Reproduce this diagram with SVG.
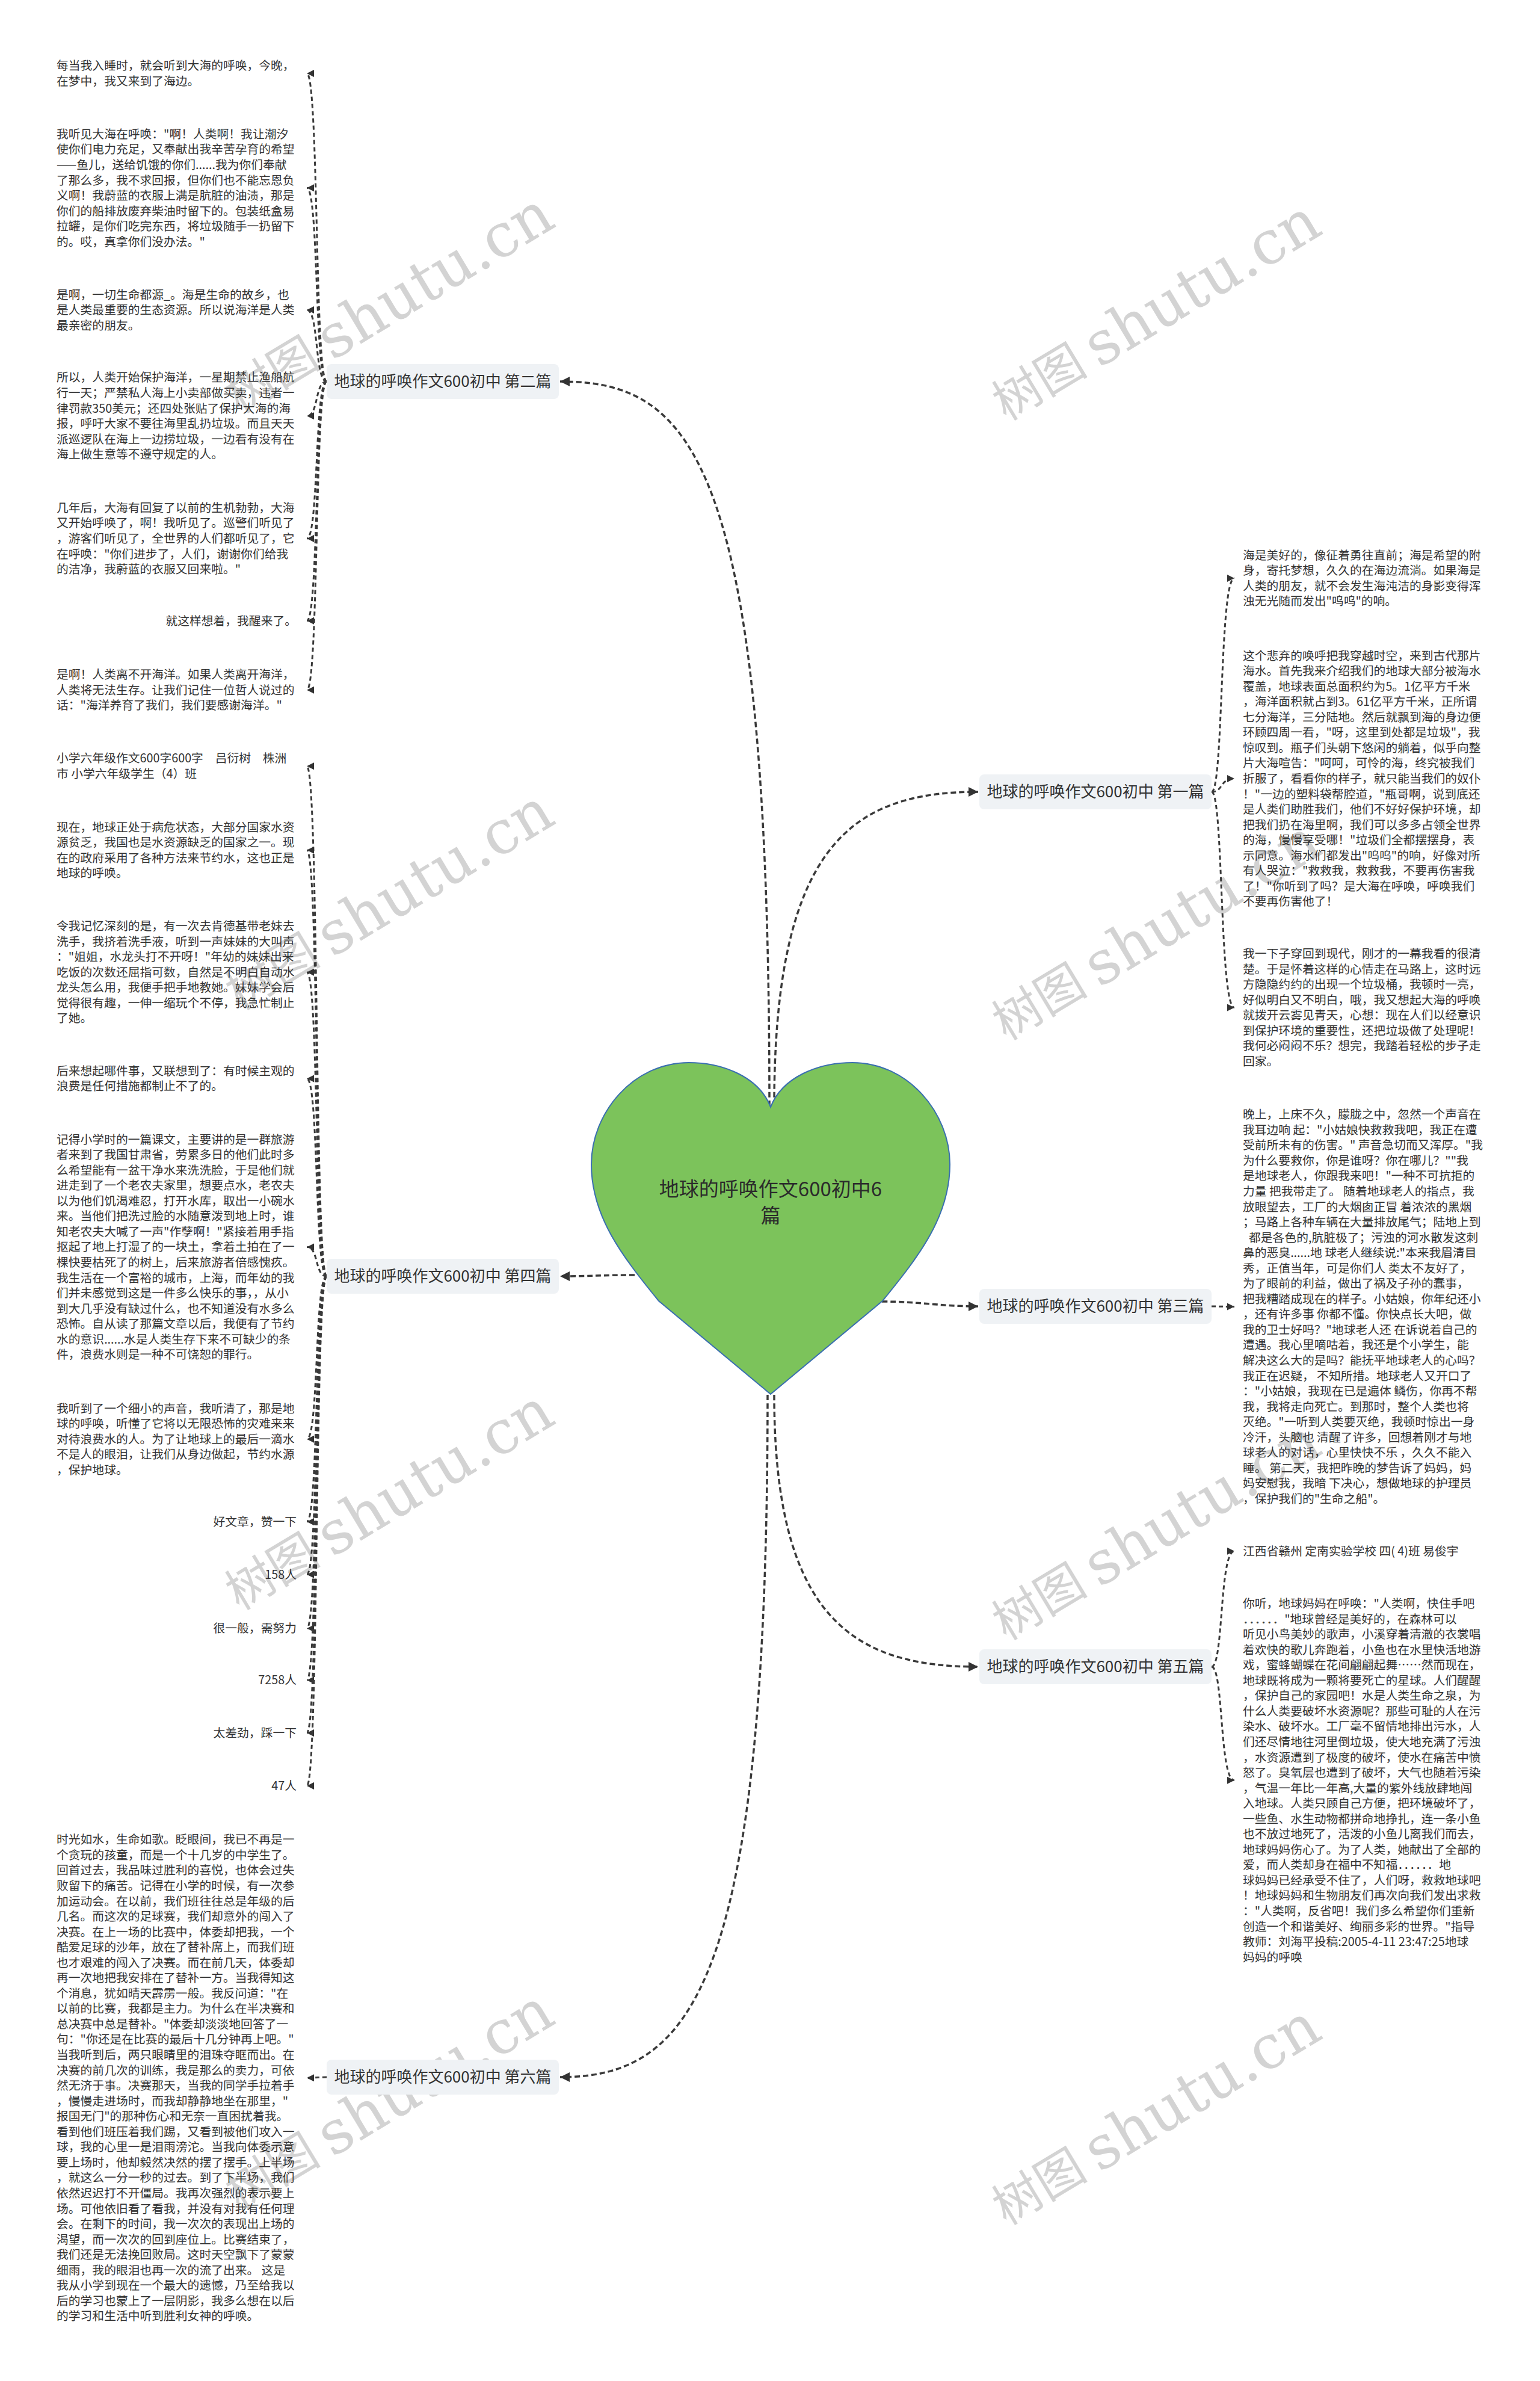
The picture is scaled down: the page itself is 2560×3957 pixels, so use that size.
<svg xmlns="http://www.w3.org/2000/svg" width="2560" height="3957" viewBox="0 0 2560 3957">
<defs>
<style>
.t{font-family:"Noto Sans CJK SC","Noto Sans",sans-serif;font-size:19.8px;fill:#333}
.b{font-family:"Noto Sans CJK SC","Noto Sans",sans-serif;font-size:26px;fill:#333}
.box{fill:#eff2f5}
.c{stroke:#3a3a3a;stroke-width:3;stroke-dasharray:7 5;fill:none;marker-end:url(#a)}
.m{stroke:#3a3a3a;stroke-width:3.5;stroke-dasharray:9 5;fill:none;marker-end:url(#A)}
.w{font-family:"DejaVu Serif","Noto Sans CJK SC",serif;fill:#d3d3d3}
</style>
<marker id="a" viewBox="0 0 10 10" refX="10" refY="5" markerWidth="12" markerHeight="12" markerUnits="userSpaceOnUse" orient="auto"><path d="M0,0 L10,5 L0,10 z" fill="#333"/></marker>
<marker id="A" viewBox="0 0 10 10" refX="10" refY="5" markerWidth="16" markerHeight="16" markerUnits="userSpaceOnUse" orient="auto"><path d="M0,0 L10,5 L0,10 z" fill="#333"/></marker>
</defs>
<rect width="2560" height="3957" fill="#fff"/>
<g id="watermarks">
<text class="w" transform="translate(650,511) rotate(-31)" text-anchor="middle" dominant-baseline="middle"><tspan font-size="80" font-family="Noto Sans CJK SC">树图 </tspan><tspan font-size="100">shutu.cn</tspan></text>
<text class="w" transform="translate(1925,523) rotate(-31)" text-anchor="middle" dominant-baseline="middle"><tspan font-size="80" font-family="Noto Sans CJK SC">树图 </tspan><tspan font-size="100">shutu.cn</tspan></text>
<text class="w" transform="translate(650,1503) rotate(-31)" text-anchor="middle" dominant-baseline="middle"><tspan font-size="80" font-family="Noto Sans CJK SC">树图 </tspan><tspan font-size="100">shutu.cn</tspan></text>
<text class="w" transform="translate(1925,1553) rotate(-31)" text-anchor="middle" dominant-baseline="middle"><tspan font-size="80" font-family="Noto Sans CJK SC">树图 </tspan><tspan font-size="100">shutu.cn</tspan></text>
<text class="w" transform="translate(650,2500) rotate(-31)" text-anchor="middle" dominant-baseline="middle"><tspan font-size="80" font-family="Noto Sans CJK SC">树图 </tspan><tspan font-size="100">shutu.cn</tspan></text>
<text class="w" transform="translate(1925,2550) rotate(-31)" text-anchor="middle" dominant-baseline="middle"><tspan font-size="80" font-family="Noto Sans CJK SC">树图 </tspan><tspan font-size="100">shutu.cn</tspan></text>
<text class="w" transform="translate(650,3497) rotate(-31)" text-anchor="middle" dominant-baseline="middle"><tspan font-size="80" font-family="Noto Sans CJK SC">树图 </tspan><tspan font-size="100">shutu.cn</tspan></text>
<text class="w" transform="translate(1925,3522) rotate(-31)" text-anchor="middle" dominant-baseline="middle"><tspan font-size="80" font-family="Noto Sans CJK SC">树图 </tspan><tspan font-size="100">shutu.cn</tspan></text>
</g>
<g id="connectors">
<path class="m" d="M1279 1838 C1279 760 1150 634 931 634"/>
<path class="m" d="M1287 1838 C1287 1400 1420 1316 1626 1316"/>
<path class="m" d="M1055 2119 C1000 2119 980 2121 931 2121"/>
<path class="m" d="M1466 2163 C1530 2163 1560 2171 1626 2171"/>
<path class="m" d="M1287 2318 C1287 2690 1420 2770 1626 2770"/>
<path class="m" d="M1276 2318 C1276 3300 1150 3452 931 3452"/>
<path class="c" d="M543 634 C523 634 530 122 510 122"/>
<path class="c" d="M543 634 C523 634 530 312.3 510 312.3"/>
<path class="c" d="M543 634 C523 634 530 515 510 515"/>
<path class="c" d="M543 634 C523 634 530 691.3 510 691.3"/>
<path class="c" d="M543 634 C523 634 530 895 510 895"/>
<path class="c" d="M543 634 C523 634 530 1031.7 510 1031.7"/>
<path class="c" d="M543 634 C523 634 530 1146.7 510 1146.7"/>
<path class="c" d="M543 2121 C523 2121 530 1273.2 510 1273.2"/>
<path class="c" d="M543 2121 C523 2121 530 1412.8 510 1412.8"/>
<path class="c" d="M543 2121 C523 2121 530 1615.7 510 1615.7"/>
<path class="c" d="M543 2121 C523 2121 530 1792.5 510 1792.5"/>
<path class="c" d="M543 2121 C523 2121 530 2072.4 510 2072.4"/>
<path class="c" d="M543 2121 C523 2121 530 2391.7 510 2391.7"/>
<path class="c" d="M543 2121 C523 2121 530 2528.9 510 2528.9"/>
<path class="c" d="M543 2121 C523 2121 530 2616.7 510 2616.7"/>
<path class="c" d="M543 2121 C523 2121 530 2706.2 510 2706.2"/>
<path class="c" d="M543 2121 C523 2121 530 2792.3 510 2792.3"/>
<path class="c" d="M543 2121 C523 2121 530 2880.1 510 2880.1"/>
<path class="c" d="M543 2121 C523 2121 530 2967.9 510 2967.9"/>
<path class="c" d="M543 3452 C530 3452 525 3453.3 510 3453.3"/>
<path class="c" d="M2014 1316 C2034 1316 2027 961 2052 961"/>
<path class="c" d="M2014 1316 C2034 1316 2027 1294 2052 1294"/>
<path class="c" d="M2014 1316 C2034 1316 2027 1674.5 2052 1674.5"/>
<path class="c" d="M2014 2171 C2030 2171 2035 2171.6 2052 2171.6"/>
<path class="c" d="M2014 2770 C2034 2770 2027 2577.8 2052 2577.8"/>
<path class="c" d="M2014 2770 C2034 2770 2027 2958.8 2052 2958.8"/>
</g>
<g id="root">
<path d="M1281 1840 C1300 1790 1360 1766 1417 1766 C1510 1766 1579 1850 1579 1935 C1579 2020 1530 2085 1467 2162 L1281 2317 L1095 2162 C1032 2085 983 2020 983 1935 C983 1850 1052 1766 1145 1766 C1202 1766 1262 1790 1281 1840 Z" fill="#7cc35b" stroke="#3a6fb0" stroke-width="2"/>
<text font-family="Noto Sans CJK SC,sans-serif" font-size="33" fill="#2b2b2b" text-anchor="middle"><tspan x="1281" y="1988">地球的呼唤作文600初中6</tspan><tspan x="1281" y="2032">篇</tspan></text>
</g>
<g id="b2"><rect class="box" x="543" y="605" width="386" height="58" rx="8"/><text class="b" x="736" y="643" text-anchor="middle">地球的呼唤作文600初中 第二篇</text></g>
<g id="b4"><rect class="box" x="543" y="2092" width="386" height="58" rx="8"/><text class="b" x="736" y="2130" text-anchor="middle">地球的呼唤作文600初中 第四篇</text></g>
<g id="b6"><rect class="box" x="543" y="3423" width="386" height="58" rx="8"/><text class="b" x="736" y="3461" text-anchor="middle">地球的呼唤作文600初中 第六篇</text></g>
<g id="b1"><rect class="box" x="1628" y="1287" width="386" height="58" rx="8"/><text class="b" x="1821" y="1325" text-anchor="middle">地球的呼唤作文600初中 第一篇</text></g>
<g id="b3"><rect class="box" x="1628" y="2142" width="386" height="58" rx="8"/><text class="b" x="1821" y="2180" text-anchor="middle">地球的呼唤作文600初中 第三篇</text></g>
<g id="b5"><rect class="box" x="1628" y="2741" width="386" height="58" rx="8"/><text class="b" x="1821" y="2779" text-anchor="middle">地球的呼唤作文600初中 第五篇</text></g>
<g id="leaves-2">
<text class="t" x="94" y="116.2"><tspan x="94">每当我入睡时，就会听到大海的呼唤，今晚，</tspan><tspan x="94" dy="25.55">在梦中，我又来到了海边。</tspan></text>
<text class="t" x="94" y="229.9"><tspan x="94">我听见大海在呼唤："啊！人类啊！我让潮汐</tspan><tspan x="94" dy="25.55">使你们电力充足，又奉献出我辛苦孕育的希望</tspan><tspan x="94" dy="25.55">——鱼儿，送给饥饿的你们......我为你们奉献</tspan><tspan x="94" dy="25.55">了那么多，我不求回报，但你们也不能忘恩负</tspan><tspan x="94" dy="25.55">义啊！我蔚蓝的衣服上满是肮脏的油渍，那是</tspan><tspan x="94" dy="25.55">你们的船排放废弃柴油时留下的。包装纸盒易</tspan><tspan x="94" dy="25.55">拉罐，是你们吃完东西，将垃圾随手一扔留下</tspan><tspan x="94" dy="25.55">的。哎，真拿你们没办法。"</tspan></text>
<text class="t" x="94" y="496.5"><tspan x="94">是啊，一切生命都源_。海是生命的故乡，也</tspan><tspan x="94" dy="25.55">是人类最重要的生态资源。所以说海洋是人类</tspan><tspan x="94" dy="25.55">最亲密的朋友。</tspan></text>
<text class="t" x="94" y="634.4"><tspan x="94">所以，人类开始保护海洋，一星期禁止渔船航</tspan><tspan x="94" dy="25.55">行一天；严禁私人海上小卖部做买卖，违者一</tspan><tspan x="94" dy="25.55">律罚款350美元；还四处张贴了保护大海的海</tspan><tspan x="94" dy="25.55">报，呼吁大家不要往海里乱扔垃圾。而且天天</tspan><tspan x="94" dy="25.55">派巡逻队在海上一边捞垃圾，一边看有没有在</tspan><tspan x="94" dy="25.55">海上做生意等不遵守规定的人。</tspan></text>
<text class="t" x="94" y="850.9"><tspan x="94">几年后，大海有回复了以前的生机勃勃，大海</tspan><tspan x="94" dy="25.55">又开始呼唤了，啊！我听见了。巡警们听见了</tspan><tspan x="94" dy="25.55">，游客们听见了，全世界的人们都听见了，它</tspan><tspan x="94" dy="25.55">在呼唤："你们进步了，人们，谢谢你们给我</tspan><tspan x="94" dy="25.55">的洁净，我蔚蓝的衣服又回来啦。"</tspan></text>
<text class="t" x="493" y="1038.7" text-anchor="end">就这样想着，我醒来了。</text>
<text class="t" x="94" y="1128.2"><tspan x="94">是啊！人类离不开海洋。如果人类离开海洋，</tspan><tspan x="94" dy="25.55">人类将无法生存。让我们记住一位哲人说过的</tspan><tspan x="94" dy="25.55">话："海洋养育了我们，我们要感谢海洋。"</tspan></text>
</g>
<g id="leaves-4">
<text class="t" x="94" y="1267.4"><tspan x="94">小学六年级作文600字600字　吕衍树　株洲</tspan><tspan x="94" dy="25.55">市 小学六年级学生（4）班</tspan></text>
<text class="t" x="94" y="1381.5"><tspan x="94">现在，地球正处于病危状态，大部分国家水资</tspan><tspan x="94" dy="25.55">源贫乏，我国也是水资源缺乏的国家之一。现</tspan><tspan x="94" dy="25.55">在的政府采用了各种方法来节约水，这也正是</tspan><tspan x="94" dy="25.55">地球的呼唤。</tspan></text>
<text class="t" x="94" y="1546.1"><tspan x="94">令我记忆深刻的是，有一次去肯德基带老妹去</tspan><tspan x="94" dy="25.55">洗手，我挤着洗手液，听到一声妹妹的大叫声</tspan><tspan x="94" dy="25.55">："姐姐，水龙头打不开呀！"年幼的妹妹出来</tspan><tspan x="94" dy="25.55">吃饭的次数还屈指可数，自然是不明白自动水</tspan><tspan x="94" dy="25.55">龙头怎么用，我便手把手地教她。妹妹学会后</tspan><tspan x="94" dy="25.55">觉得很有趣，一伸一缩玩个不停，我急忙制止</tspan><tspan x="94" dy="25.55">了她。</tspan></text>
<text class="t" x="94" y="1786.7"><tspan x="94">后来想起哪件事，又联想到了：有时候主观的</tspan><tspan x="94" dy="25.55">浪费是任何措施都制止不了的。</tspan></text>
<text class="t" x="94" y="1900.6"><tspan x="94">记得小学时的一篇课文，主要讲的是一群旅游</tspan><tspan x="94" dy="25.55">者来到了我国甘肃省，劳累多日的他们此时多</tspan><tspan x="94" dy="25.55">么希望能有一盆干净水来洗洗脸，于是他们就</tspan><tspan x="94" dy="25.55">进走到了一个老农夫家里，想要点水，老农夫</tspan><tspan x="94" dy="25.55">以为他们饥渴难忍，打开水库，取出一小碗水</tspan><tspan x="94" dy="25.55">来。当他们把洗过脸的水随意泼到地上时，谁</tspan><tspan x="94" dy="25.55">知老农夫大喊了一声"作孽啊！"紧接着用手指</tspan><tspan x="94" dy="25.55">抠起了地上打湿了的一块土，拿着土拍在了一</tspan><tspan x="94" dy="25.55">棵快要枯死了的树上，后来旅游者倍感愧疚。</tspan><tspan x="94" dy="25.55">我生活在一个富裕的城市，上海，而年幼的我</tspan><tspan x="94" dy="25.55">们并未感觉到这是一件多么快乐的事，，从小</tspan><tspan x="94" dy="25.55">到大几乎没有缺过什么，也不知道没有水多么</tspan><tspan x="94" dy="25.55">恐怖。自从读了那篇文章以后，我便有了节约</tspan><tspan x="94" dy="25.55">水的意识......水是人类生存下来不可缺少的条</tspan><tspan x="94" dy="25.55">件，浪费水则是一种不可饶恕的罪行。</tspan></text>
<text class="t" x="94" y="2347.6"><tspan x="94">我听到了一个细小的声音，我听清了，那是地</tspan><tspan x="94" dy="25.55">球的呼唤，听懂了它将以无限恐怖的灾难来来</tspan><tspan x="94" dy="25.55">对待浪费水的人。为了让地球上的最后一滴水</tspan><tspan x="94" dy="25.55">不是人的眼泪，让我们从身边做起，节约水源</tspan><tspan x="94" dy="25.55">，保护地球。</tspan></text>
<text class="t" x="493" y="2535.9" text-anchor="end">好文章，赞一下</text>
<text class="t" x="493" y="2623.7" text-anchor="end">158人</text>
<text class="t" x="493" y="2713.2" text-anchor="end">很一般，需努力</text>
<text class="t" x="493" y="2799.3" text-anchor="end">7258人</text>
<text class="t" x="493" y="2887.1" text-anchor="end">太差劲，踩一下</text>
<text class="t" x="493" y="2974.9" text-anchor="end">47人</text>
</g>
<g id="leaves-6">
<text class="t" x="94" y="3064.3"><tspan x="94">时光如水，生命如歌。眨眼间，我已不再是一</tspan><tspan x="94" dy="25.55">个贪玩的孩童，而是一个十几岁的中学生了。</tspan><tspan x="94" dy="25.55">回首过去，我品味过胜利的喜悦，也体会过失</tspan><tspan x="94" dy="25.55">败留下的痛苦。记得在小学的时候，有一次参</tspan><tspan x="94" dy="25.55">加运动会。在以前，我们班往往总是年级的后</tspan><tspan x="94" dy="25.55">几名。而这次的足球赛，我们却意外的闯入了</tspan><tspan x="94" dy="25.55">决赛。在上一场的比赛中，体委却把我，一个</tspan><tspan x="94" dy="25.55">酷爱足球的沙年，放在了替补席上，而我们班</tspan><tspan x="94" dy="25.55">也才艰难的闯入了决赛。而在前几天，体委却</tspan><tspan x="94" dy="25.55">再一次地把我安排在了替补一方。当我得知这</tspan><tspan x="94" dy="25.55">个消息，犹如晴天霹雳一般。我反问道："在</tspan><tspan x="94" dy="25.55">以前的比赛，我都是主力。为什么在半决赛和</tspan><tspan x="94" dy="25.55">总决赛中总是替补。"体委却淡淡地回答了一</tspan><tspan x="94" dy="25.55">句："你还是在比赛的最后十几分钟再上吧。"</tspan><tspan x="94" dy="25.55">当我听到后，两只眼睛里的泪珠夺眶而出。在</tspan><tspan x="94" dy="25.55">决赛的前几次的训练，我是那么的卖力，可依</tspan><tspan x="94" dy="25.55">然无济于事。决赛那天，当我的同学手拉着手</tspan><tspan x="94" dy="25.55">，慢慢走进场时，而我却静静地坐在那里，"</tspan><tspan x="94" dy="25.55">报国无门"的那种伤心和无奈一直困扰着我。</tspan><tspan x="94" dy="25.55">看到他们班压着我们踢，又看到被他们攻入一</tspan><tspan x="94" dy="25.55">球，我的心里一是泪雨滂沱。当我向体委示意</tspan><tspan x="94" dy="25.55">要上场时，他却毅然决然的摆了摆手。上半场</tspan><tspan x="94" dy="25.55">，就这么一分一秒的过去。到了下半场，我们</tspan><tspan x="94" dy="25.55">依然迟迟打不开僵局。我再次强烈的表示要上</tspan><tspan x="94" dy="25.55">场。可他依旧看了看我，并没有对我有任何理</tspan><tspan x="94" dy="25.55">会。在剩下的时间，我一次次的表现出上场的</tspan><tspan x="94" dy="25.55">渴望，而一次次的回到座位上。比赛结束了，</tspan><tspan x="94" dy="25.55">我们还是无法挽回败局。这时天空飘下了蒙蒙</tspan><tspan x="94" dy="25.55">细雨，我的眼泪也再一次的流了出来。 这是</tspan><tspan x="94" dy="25.55">我从小学到现在一个最大的遗憾，乃至给我以</tspan><tspan x="94" dy="25.55">后的学习也蒙上了一层阴影，我多么想在以后</tspan><tspan x="94" dy="25.55">的学习和生活中听到胜利女神的呼唤。</tspan></text>
</g>
<g id="leaves-1">
<text class="t" x="2066" y="929.7"><tspan x="2066">海是美好的，像征着勇往直前；海是希望的附</tspan><tspan x="2066" dy="25.55">身，寄托梦想，久久的在海边流淌。如果海是</tspan><tspan x="2066" dy="25.55">人类的朋友，就不会发生海沌洁的身影变得浑</tspan><tspan x="2066" dy="25.55">浊无光随而发出"呜呜"的响。</tspan></text>
<text class="t" x="2066" y="1096.6"><tspan x="2066">这个悲弃的唤呼把我穿越时空，来到古代那片</tspan><tspan x="2066" dy="25.55">海水。首先我来介绍我们的地球大部分被海水</tspan><tspan x="2066" dy="25.55">覆盖，地球表面总面积约为5。1亿平方千米</tspan><tspan x="2066" dy="25.55">，海洋面积就占到3。61亿平方千米，正所谓</tspan><tspan x="2066" dy="25.55">七分海洋，三分陆地。然后就飘到海的身边便</tspan><tspan x="2066" dy="25.55">环顾四周一看，"呀，这里到处都是垃圾"，我</tspan><tspan x="2066" dy="25.55">惊叹到。瓶子们头朝下悠闲的躺着，似乎向整</tspan><tspan x="2066" dy="25.55">片大海喧告："呵呵，可怜的海，终究被我们</tspan><tspan x="2066" dy="25.55">折服了，看看你的样子，就只能当我们的奴仆</tspan><tspan x="2066" dy="25.55">！"一边的塑料袋帮腔道，"瓶哥啊，说到底还</tspan><tspan x="2066" dy="25.55">是人类们助胜我们，他们不好好保护环境，却</tspan><tspan x="2066" dy="25.55">把我们扔在海里啊，我们可以多多占领全世界</tspan><tspan x="2066" dy="25.55">的海，慢慢享受哪！"垃圾们全都摆摆身，表</tspan><tspan x="2066" dy="25.55">示同意。海水们都发出"呜呜"的响，好像对所</tspan><tspan x="2066" dy="25.55">有人哭泣："救救我，救救我，不要再伤害我</tspan><tspan x="2066" dy="25.55">了！"你听到了吗？是大海在呼唤，呼唤我们</tspan><tspan x="2066" dy="25.55">不要再伤害他了！</tspan></text>
<text class="t" x="2066" y="1592.1"><tspan x="2066">我一下子穿回到现代，刚才的一幕我看的很清</tspan><tspan x="2066" dy="25.55">楚。于是怀着这样的心情走在马路上，这时远</tspan><tspan x="2066" dy="25.55">方隐隐约约的出现一个垃圾桶，我顿时一亮，</tspan><tspan x="2066" dy="25.55">好似明白又不明白，哦，我又想起大海的呼唤</tspan><tspan x="2066" dy="25.55">就拨开云雾见青天，心想：现在人们以经意识</tspan><tspan x="2066" dy="25.55">到保护环境的重要性，还把垃圾做了处理呢！</tspan><tspan x="2066" dy="25.55">我何必闷闷不乐？想完，我踏着轻松的步子走</tspan><tspan x="2066" dy="25.55">回家。</tspan></text>
</g>
<g id="leaves-3">
<text class="t" x="2066" y="1859.2"><tspan x="2066">晚上，上床不久，朦胧之中，忽然一个声音在</tspan><tspan x="2066" dy="25.55">我耳边响 起："小姑娘快救救我吧，我正在遭</tspan><tspan x="2066" dy="25.55">受前所未有的伤害。" 声音急切而又浑厚。"我</tspan><tspan x="2066" dy="25.55">为什么要救你，你是谁呀？你在哪儿？""我</tspan><tspan x="2066" dy="25.55">是地球老人，你跟我来吧！"一种不可抗拒的</tspan><tspan x="2066" dy="25.55">力量 把我带走了。 随着地球老人的指点，我</tspan><tspan x="2066" dy="25.55">放眼望去，工厂的大烟囱正冒 着浓浓的黑烟</tspan><tspan x="2066" dy="25.55">；马路上各种车辆在大量排放尾气；陆地上到</tspan><tspan x="2076" dy="25.55">都是各色的,肮脏极了；污浊的河水散发这刺</tspan><tspan x="2066" dy="25.55">鼻的恶臭......地 球老人继续说:"本来我眉清目</tspan><tspan x="2066" dy="25.55">秀，正值当年，可是你们人 类太不友好了，</tspan><tspan x="2066" dy="25.55">为了眼前的利益，做出了祸及子孙的蠢事，</tspan><tspan x="2066" dy="25.55">把我糟踏成现在的样子。小姑娘，你年纪还小</tspan><tspan x="2066" dy="25.55">，还有许多事 你都不懂。你快点长大吧，做</tspan><tspan x="2066" dy="25.55">我的卫士好吗？"地球老人还 在诉说着自己的</tspan><tspan x="2066" dy="25.55">遭遇。我心里嘀咕着，我还是个小学生，能</tspan><tspan x="2066" dy="25.55">解决这么大的是吗？能抚平地球老人的心吗？</tspan><tspan x="2066" dy="25.55">我正在迟疑， 不知所措。地球老人又开口了</tspan><tspan x="2066" dy="25.55">："小姑娘，我现在已是遍体 鳞伤，你再不帮</tspan><tspan x="2066" dy="25.55">我，我将走向死亡。到那时，整个人类也将</tspan><tspan x="2066" dy="25.55">灭绝。"一听到人类要灭绝，我顿时惊出一身</tspan><tspan x="2066" dy="25.55">冷汗，头脑也 清醒了许多，回想着刚才与地</tspan><tspan x="2066" dy="25.55">球老人的对话，心里快快不乐 ，久久不能入</tspan><tspan x="2066" dy="25.55">睡。 第二天，我把昨晚的梦告诉了妈妈，妈</tspan><tspan x="2066" dy="25.55">妈安慰我，我暗 下决心，想做地球的护理员</tspan><tspan x="2066" dy="25.55">，保护我们的"生命之船"。</tspan></text>
</g>
<g id="leaves-5">
<text class="t" x="2066" y="2584.8">江西省赣州 定南实验学校 四( 4)班 易俊宇</text>
<text class="t" x="2066" y="2672"><tspan x="2066">你听，地球妈妈在呼唤："人类啊，快住手吧</tspan><tspan x="2066" dy="25.55">．．．．．．"地球曾经是美好的，在森林可以</tspan><tspan x="2066" dy="25.55">听见小鸟美妙的歌声，小溪穿着清澈的衣裳唱</tspan><tspan x="2066" dy="25.55">着欢快的歌儿奔跑着，小鱼也在水里快活地游</tspan><tspan x="2066" dy="25.55">戏，蜜蜂蝴蝶在花间翩翩起舞……然而现在，</tspan><tspan x="2066" dy="25.55">地球既将成为一颗将要死亡的星球。人们醒醒</tspan><tspan x="2066" dy="25.55">，保护自己的家园吧！水是人类生命之泉，为</tspan><tspan x="2066" dy="25.55">什么人类要破坏水资源呢？那些可耻的人在污</tspan><tspan x="2066" dy="25.55">染水、破坏水。工厂毫不留情地排出污水，人</tspan><tspan x="2066" dy="25.55">们还尽情地往河里倒垃圾，使大地充满了污浊</tspan><tspan x="2066" dy="25.55">，水资源遭到了极度的破坏，使水在痛苦中愤</tspan><tspan x="2066" dy="25.55">怒了。臭氧层也遭到了破坏，大气也随着污染</tspan><tspan x="2066" dy="25.55">，气温一年比一年高,大量的紫外线放肆地闯</tspan><tspan x="2066" dy="25.55">入地球。人类只顾自己方便，把环境破坏了，</tspan><tspan x="2066" dy="25.55">一些鱼、水生动物都拼命地挣扎，连一条小鱼</tspan><tspan x="2066" dy="25.55">也不放过地死了，活泼的小鱼儿离我们而去，</tspan><tspan x="2066" dy="25.55">地球妈妈伤心了。为了人类，她献出了全部的</tspan><tspan x="2066" dy="25.55">爱，而人类却身在福中不知福．．．．．．地</tspan><tspan x="2066" dy="25.55">球妈妈已经承受不住了，人们呀，救救地球吧</tspan><tspan x="2066" dy="25.55">！地球妈妈和生物朋友们再次向我们发出求救</tspan><tspan x="2066" dy="25.55">："人类啊，反省吧！我们多么希望你们重新</tspan><tspan x="2066" dy="25.55">创造一个和谐美好、绚丽多彩的世界。"指导</tspan><tspan x="2066" dy="25.55">教师：刘海平投稿:2005-4-11 23:47:25地球</tspan><tspan x="2066" dy="25.55">妈妈的呼唤</tspan></text>
</g>
</svg>
